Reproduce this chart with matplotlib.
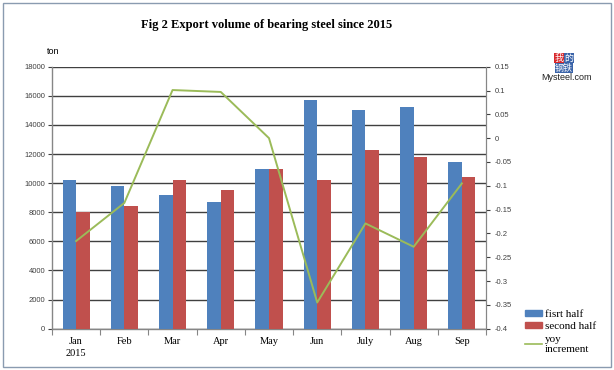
import numpy as np
import matplotlib
matplotlib.use("Agg")
import matplotlib.pyplot as plt
from matplotlib.patches import Rectangle
from matplotlib.lines import Line2D
from matplotlib.ticker import FixedLocator, FuncFormatter

months = ["Jan\n2015", "Feb", "Mar", "Apr", "May", "Jun", "July", "Aug", "Sep"]
first_half = [10200, 9800, 9200, 8700, 11000, 15700, 15000, 15250, 11450]
second_half = [8000, 8450, 10200, 9500, 11000, 10250, 12300, 11800, 10400]
yoy = [-0.216, -0.136, 0.101, 0.097, 0.0, -0.345, -0.179, -0.228, -0.095]

BLUE = "#4F81BD"
RED = "#C0504D"
GREEN = "#9BBB59"
SERIF = "Liberation Serif"
SANS = "Liberation Sans"


def pct_fmt(v, pos):
    v = round(v, 2)
    if abs(v) < 1e-9:
        return "0"
    return "{:g}".format(v)


fig = plt.figure(figsize=(6.14, 3.70), dpi=100)
fig.patch.set_facecolor("white")
fig.patches.append(Rectangle((3 / 614, 3 / 370), 608 / 614, 364 / 370,
                             transform=fig.transFigure, fill=False,
                             edgecolor="#8a9bb0", lw=1.0))

ax = fig.add_axes([52 / 614, 1 - 328.7 / 370, 434 / 614, 262 / 370])
x = np.arange(len(months))
w = 0.28
ax.bar(x - w / 2, first_half, width=w, color=BLUE, zorder=3)
ax.bar(x + w / 2, second_half, width=w, color=RED, zorder=3)

ax.set_xlim(-0.5, len(months) - 0.5)
ax.set_ylim(0, 18000)
ax.set_yticks(np.arange(0, 18001, 2000))
ax.yaxis.grid(True, color="#404040", lw=1.0, zorder=0)
ax.set_axisbelow(True)
ax.tick_params(axis="y", labelsize=5.5, colors="#404040", length=3, width=0.8, pad=2)
for lab in ax.get_yticklabels():
    lab.set_fontfamily(SANS)

ax.set_xticks(x)
ax.set_xticklabels(months, fontfamily=SERIF, fontsize=7.5, linespacing=1.45)
ax.tick_params(axis="x", which="major", length=0, pad=6)
ax.xaxis.set_minor_locator(FixedLocator(np.arange(-0.5, len(months), 1.0)))
ax.tick_params(axis="x", which="minor", length=4, width=0.8, color="#868686")

for s in ["left", "bottom"]:
    ax.spines[s].set_color("#868686")
    ax.spines[s].set_linewidth(1.0)
ax.spines["top"].set_visible(False)
ax.spines["right"].set_color("#868686")

ax2 = ax.twinx()
ax2.plot(x, yoy, color=GREEN, lw=1.4, zorder=5)
ax2.set_ylim(-0.4, 0.15)
ax2.set_yticks(np.round(np.arange(-0.4, 0.151, 0.05), 2))
ax2.yaxis.set_major_formatter(FuncFormatter(pct_fmt))
ax2.tick_params(axis="y", labelsize=5.5, colors="#404040", length=3, width=0.8, pad=3)
for lab in ax2.get_yticklabels():
    lab.set_fontfamily(SANS)
for s in ["left", "bottom", "top"]:
    ax2.spines[s].set_visible(False)
ax2.spines["right"].set_color("#868686")

fig.text(267 / 614, 1 - 25 / 370, "Fig 2 Export volume of bearing steel since 2015",
         ha="center", va="center", fontfamily=SERIF, fontweight="bold", fontsize=9)
fig.text(47 / 614, 1 - 52 / 370, "ton", ha="left", va="center",
         fontfamily=SANS, fontsize=6.5)

# logo
fig.text(559 / 614, 1 - 58 / 370, "我", color="white", fontsize=6.5,
         fontfamily="Noto Sans CJK SC", ha="center", va="center",
         bbox=dict(facecolor="#d8282c", edgecolor="none", pad=0.3))
fig.text(569 / 614, 1 - 58 / 370, "的", color="white", fontsize=6.5,
         fontfamily="Noto Sans CJK SC", ha="center", va="center",
         bbox=dict(facecolor="#3a63a8", edgecolor="none", pad=0.3))
fig.text(564 / 614, 1 - 68 / 370, "钢铁", color="white", fontsize=6.5,
         fontfamily="Noto Sans CJK SC", ha="center", va="center",
         bbox=dict(facecolor="#3a63a8", edgecolor="none", pad=0.3))
fig.text(566 / 614, 1 - 78 / 370, "Mysteel.com", color="#222222", fontsize=6.5,
         fontfamily=SANS, ha="center", va="center")

handles = [Rectangle((0, 0), 1, 1, color=BLUE), Rectangle((0, 0), 1, 1, color=RED),
           Line2D([], [], color=GREEN, lw=1.2)]
leg = fig.legend(handles, ["fisrt half", "second half", "yoy\nincrement"],
                 loc="upper left", bbox_to_anchor=(525 / 614, 1 - 310 / 370),
                 frameon=False, prop={"family": SERIF, "size": 8},
                 handlelength=1.5, handleheight=0.45, handletextpad=0.3,
                 labelspacing=0.3, borderpad=0, borderaxespad=0)
for t in leg.get_texts():
    t.set_linespacing(1.2)

fig.savefig("out.png", dpi=100)
